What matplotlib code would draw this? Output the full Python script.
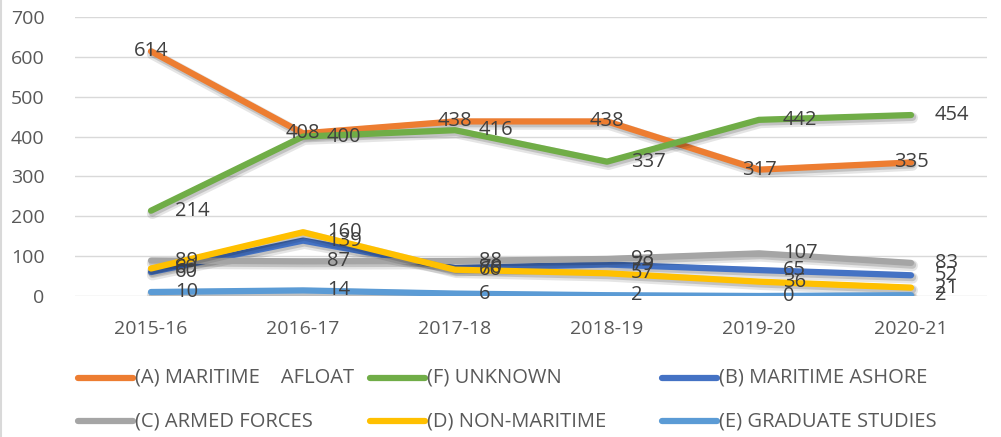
import matplotlib
matplotlib.use("Agg")
import matplotlib.pyplot as plt
from matplotlib.lines import Line2D
import matplotlib.patheffects as pe

plt.rcParams['font.family'] = ['Liberation Sans Narrow', 'Open Sans', 'DejaVu Sans']

years = ["2015-16", "2016-17", "2017-18", "2018-19", "2019-20", "2020-21"]
maritime_afloat = [614, 408, 438, 438, 317, 335]
unknown = [214, 400, 416, 337, 442, 454]
maritime_ashore = [60, 139, 70, 79, 65, 52]
armed_forces = [89, 87, 88, 93, 107, 83]
non_maritime = [69, 160, 66, 57, 36, 21]
graduate_studies = [10, 14, 6, 2, 0, 2]

series = [
    ("(A) MARITIME    AFLOAT", maritime_afloat, "#ED7D31", "center"),
    ("(F) UNKNOWN", unknown, "#70AD47", "right"),
    ("(B) MARITIME ASHORE", maritime_ashore, "#4472C4", "right"),
    ("(C) ARMED FORCES", armed_forces, "#A5A5A5", "right"),
    ("(D) NON-MARITIME", non_maritime, "#FFC000", "right"),
    ("(E) GRADUATE STUDIES", graduate_studies, "#5B9BD5", "right"),
]

W, H = 1001, 437
fig = plt.figure(figsize=(W / 100, H / 100), dpi=100)
ax = fig.add_axes([75 / W, (H - 296) / H, (987 - 75) / W, (296 - 17) / H])

x = list(range(len(years)))
shadow = [pe.SimpleLineShadow(offset=(1, -2), shadow_color='black', alpha=0.10, linewidth=8),
          pe.SimpleLineShadow(offset=(1, -1.5), shadow_color='black', alpha=0.15, linewidth=5.5),
          pe.Normal()]
for name, vals, color, pos in series:
    ax.plot(x, vals, color=color, lw=4.5, solid_capstyle='round', solid_joinstyle='round',
            path_effects=shadow, zorder=3)

for name, vals, color, pos in series:
    for xi, v in zip(x, vals):
        if pos == "center":
            ax.annotate(str(v), (xi, v), ha='center', va='center', fontsize=14.5,
                        color='#404040', zorder=5)
        else:
            ax.annotate(str(v), (xi, v), xytext=(24, 0), textcoords='offset pixels',
                        ha='left', va='center', fontsize=14.5, color='#404040', zorder=5)

ax.set_xlim(-0.5, len(years) - 0.5)
ax.set_ylim(0, 700)
ax.set_yticks(range(0, 701, 100))
ax.set_xticks(x)
ax.set_xticklabels(years)
ax.grid(axis='y', color='#D9D9D9', lw=1)
ax.set_axisbelow(True)
for s in ax.spines.values():
    s.set_visible(False)
ax.tick_params(axis='both', length=0, labelsize=14, labelcolor='#595959')
ax.tick_params(axis='y', pad=22)
ax.tick_params(axis='x', pad=17)

# legend (manual placement, Excel-like grid)
leg_cols = [78, 370, 662]
leg_rows = [378, 421]
for i, (name, vals, color, pos) in enumerate(series):
    cx = leg_cols[i % 3]
    cy = leg_rows[i // 3]
    yf = (H - cy) / H
    fig.add_artist(Line2D([cx / W, (cx + 55) / W], [yf, yf], color=color, lw=4.5,
                          solid_capstyle='round', transform=fig.transFigure))
    fig.text((cx + 57) / W, yf, name, ha='left', va='center', fontsize=14.5, color='#595959')

fig.add_artist(Line2D([1 / W, 1 / W], [0, 1], color='#D9D9D9', lw=1.5, transform=fig.transFigure))

fig.savefig("out.png", dpi=100)
